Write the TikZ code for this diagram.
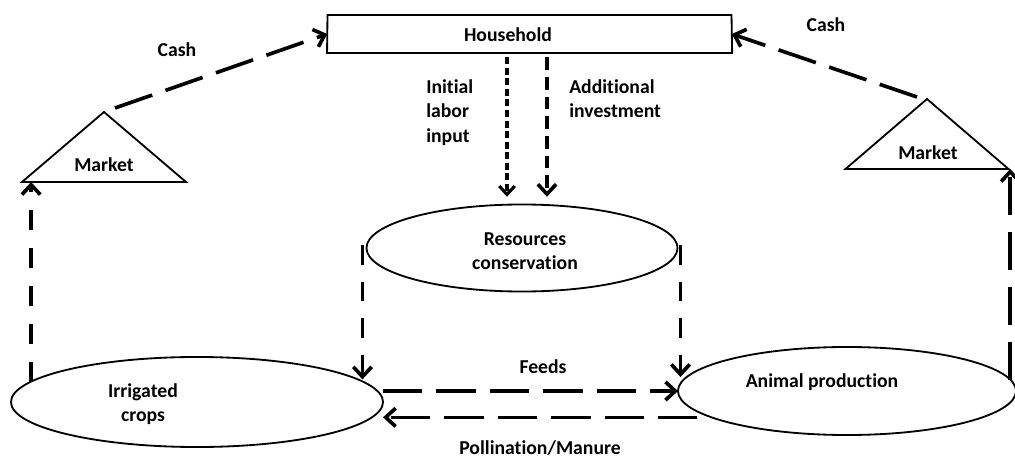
\documentclass[tikz,border=0pt]{standalone}
\usepackage{fontspec}
\setmainfont[Ligatures=NoCommon]{Carlito}
\usetikzlibrary{shapes.geometric,arrows.meta}

\tikzset{
    box/.style={draw, line width=1.3pt, inner sep=0pt, outer sep=0pt},
    oval/.style={box, ellipse},
    market/.style={box, isosceles triangle, isosceles triangle stretches, shape border rotate=90, anchor=apex, inner sep=1pt},
    txt/.style={font=\fontsize{14}{17.5}\selectfont\bfseries, align=center, inner sep=0pt},
    flow/.style={line width=2.6pt, -{Straight Barb[length=7pt,width=13pt]}},
    longdash/.style={dash pattern=on 28pt off 10pt},
    shortdash/.style={dash pattern=on 14pt off 13pt},
}

\begin{document}
\begin{tikzpicture}[x=0.025cm, y=-0.025cm]
    \useasboundingbox (0,0) rectangle (1015,460);

    % shapes
    \node[box, trapezium, trapezium stretches body, trapezium left angle=81, trapezium right angle=77,
          inner sep=1pt, minimum width=10.125cm, minimum height=0.95cm] (hh) at (529.5,34) {};
    \node[market, minimum width=4.1cm, minimum height=1.75cm] (mktL) at (104,112) {};
    \node[market, minimum width=4.075cm, minimum height=1.75cm] (mktR) at (927,99) {};
    \node[oval, minimum width=7.775cm, minimum height=2.175cm] (rc) at (522,248) {};
    \node[oval, minimum width=9.3cm, minimum height=2.25cm] (crops) at (197,402) {};
    \node[oval, minimum width=8.45cm, minimum height=2.2cm] (animal) at (847,391) {};

    % texts
    \node[txt] (hhT) at (508,35) {Household};
    \node[txt] (mktLT) at (104,165) {Market};
    \node[txt] (mktRT) at (928,153) {Market};
    \node[txt] (rcT) at (525,251) {Resources\\conservation};
    \node[txt] (cropsT) at (143,404) {Irrigated\\crops};
    \node[txt] (animalT) at (822,382) {Animal production};
    \node[txt] (cashL) at (177,50) {Cash};
    \node[txt] (cashR) at (826,25) {Cash};
    \node[txt, anchor=north west, align=left] (labor) at (426,79) {Initial\\labor\\input};
    \node[txt, anchor=north west, align=left] (invest) at (569,79) {Additional\\investment};
    \node[txt] (feeds) at (543,367) {Feeds};
    \node[txt] (poll) at (540,448) {Pollination/Manure};

    % end points
    \coordinate (inL) at ([shift={(-15,0)}]rc.north);
    \coordinate (inR) at ([shift={(25,0)}]rc.north);
    \coordinate (rcL) at ([shift={(-4,-3)}]rc.west);
    \coordinate (rcR) at ([shift={(3,-3)}]rc.east);
    \coordinate (cropsUp) at (crops.173);
    \coordinate (animalUp) at (animal.4);

    % flows
    \draw[flow, longdash] ([shift={(11,-4)}]mktL.apex) -- (hh.west);
    \draw[flow, longdash] ([shift={(-10,-2)}]mktR.apex) -- (hh.east);
    \draw[line width=2.2pt, dash pattern=on 5pt off 2.5pt, -{Straight Barb[length=6pt,width=11pt]},
          shorten <=3pt, shorten >=5.5pt] (inL |- hh.south) -- (inL);
    \draw[flow, dash pattern=on 9pt off 5pt, shorten <=3pt, shorten >=5.5pt] (inR |- hh.south) -- (inR);
    \draw[flow, shortdash] (cropsUp) -- (cropsUp |- mktL.south);
    \draw[flow, dash pattern=on 27pt off 12pt] (animalUp) -- (animalUp |- mktR.south);
    \draw[flow, dash pattern=on 14pt off 12pt] (rcL) -- (rcL |- crops.8);
    \draw[flow, dash pattern=on 14pt off 12pt] (rcR) -- (rcR |- animal.175);
    \draw[flow, longdash] (crops.east |- animal.west) -- (animal.west);
    \draw[flow, longdash, shorten <=10pt] (animal.191) -- (animal.191 -| crops.east);
\end{tikzpicture}
\end{document}
